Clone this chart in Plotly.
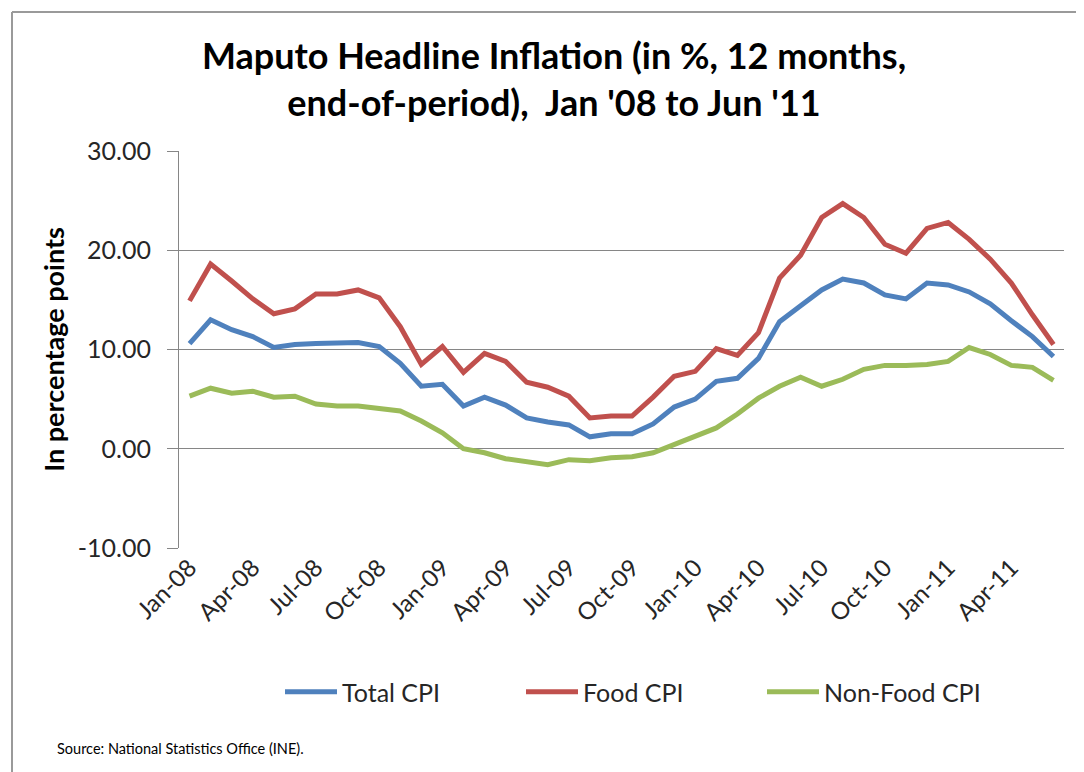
import plotly.graph_objects as go
import pandas as pd

# monthly categories Jan-08 .. Jun-11
months = pd.date_range("2008-01-01", periods=42, freq="MS").strftime("%b-%y").tolist()

total_cpi = [10.6, 13.0, 12.0, 11.3, 10.2, 10.5, 10.6, 10.6, 10.7, 10.3,
             8.6, 6.3, 6.5, 4.3, 5.2, 4.4, 3.1, 2.7, 2.4, 1.2,
             1.5, 1.5, 2.5, 4.2, 5.0, 6.8, 7.1, 9.1, 12.8, 14.4,
             16.0, 17.1, 16.7, 15.5, 15.1, 16.7, 16.5, 15.8, 14.6, 12.9,
             11.3, 9.3]
food_cpi = [14.9, 18.6, 16.9, 15.1, 13.6, 14.1, 15.6, 15.6, 16.0, 15.2,
            12.3, 8.5, 10.3, 7.7, 9.6, 8.8, 6.7, 6.2, 5.3, 3.1,
            3.3, 3.3, 5.2, 7.3, 7.8, 10.1, 9.4, 11.7, 17.2, 19.5,
            23.3, 24.7, 23.3, 20.6, 19.7, 22.2, 22.8, 21.1, 19.1, 16.7,
            13.5, 10.5]
nonfood_cpi = [5.3, 6.1, 5.6, 5.8, 5.2, 5.3, 4.5, 4.3, 4.3, 4.1,
               3.8, 2.8, 1.6, 0.0, -0.4, -1.0, -1.3, -1.6, -1.1, -1.2,
               -0.9, -0.8, -0.4, 0.4, 1.3, 2.1, 3.5, 5.1, 6.3, 7.2,
               6.3, 7.0, 8.0, 8.4, 8.4, 8.5, 8.8, 10.2, 9.5, 8.4,
               8.2, 6.9]

tick_labels = ["Jan-08", "Apr-08", "Jul-08", "Oct-08", "Jan-09", "Apr-09", "Jul-09",
               "Oct-09", "Jan-10", "Apr-10", "Jul-10", "Oct-10", "Jan-11", "Apr-11"]
y_ticks = [-10, 0, 10, 20, 30]
y_tick_text = ["-10.00", "0.00", "10.00", "20.00", "30.00"]

# page has an 8px body margin, so the figure is drawn 8px in from the window corner
OFF = 8
W, H = 1076, 764
ML, MR, MT, MB = 171, 20, 143, 224
PW, PH = W - ML - MR, H - MT - MB


def px_x(p):
    # window pixel -> paper fraction
    return (p - OFF - ML) / PW


def px_y(p):
    return (H - MB - (p - OFF)) / PH


FONT = "Lato, 'Open Sans', sans-serif"
GRID = "#868686"
x = list(range(len(months)))

fig = go.Figure()
series = [
    ("Total CPI", total_cpi, "#4F81BD"),
    ("Food CPI", food_cpi, "#C0504D"),
    ("Non-Food CPI", nonfood_cpi, "#9BBB59"),
]
for name, vals, color in series:
    fig.add_trace(go.Scatter(
        x=x, y=vals, name=name, mode="lines",
        line=dict(color=color, width=5),
        text=months, hovertemplate="%{text}: %{y:.2f}<extra>" + name + "</extra>"
    ))

fig.update_layout(
    width=W, height=H,
    margin=dict(l=ML, r=MR, t=MT, b=MB),
    paper_bgcolor="#ffffff",
    plot_bgcolor="#ffffff",
    font=dict(family=FONT, color="#262626"),
    title=dict(
        text="<b>Maputo Headline Inflation (in %, 12 months,<br>end-of-period),  Jan '08 to Jun '11</b>",
        x=(554 - OFF) / W, xanchor="center", y=1 - 61 / H, yanchor="middle",
        font=dict(size=36, color="#000000", family=FONT)
    ),
    xaxis=dict(
        range=[-0.5, len(months) - 0.5],
        tickmode="array", tickvals=x[::3], ticktext=tick_labels,
        tickangle=-45, ticks="", showline=False, showgrid=False, zeroline=False,
        tickfont=dict(size=24, color="#262626"),
    ),
    xaxis2=dict(
        overlaying="x", anchor="free", position=0.25, side="bottom",
        range=[-0.5, len(months) - 0.5],
        tickmode="array", tickvals=[i - 0.5 for i in x[::3]] + [len(months) - 0.5],
        ticks="outside", ticklen=8, tickcolor=GRID, tickwidth=1,
        showticklabels=False, showline=True, linecolor=GRID, linewidth=1,
        showgrid=False, zeroline=False,
    ),
    yaxis=dict(
        range=[-10, 30],
        tickmode="array", tickvals=y_ticks, ticktext=y_tick_text,
        ticks="outside", ticklen=11, tickcolor=GRID, tickwidth=1,
        ticklabelstandoff=11,
        showline=True, linecolor=GRID, linewidth=1,
        showgrid=True, gridcolor=GRID, gridwidth=1, zeroline=False,
        tickfont=dict(size=25, color="#262626"),
        title=dict(text="<b>In percentage points</b>", standoff=5,
                   font=dict(size=27, color="#000000")),
    ),
    legend=dict(
        orientation="h", x=px_x(280), xanchor="left", y=px_y(692), yanchor="middle",
        entrywidth=174, entrywidthmode="pixels",
        font=dict(size=25, color="#262626"), itemwidth=52,
        bgcolor="rgba(0,0,0,0)",
    ),
    showlegend=True,
)

fig.add_annotation(
    text="Source: National Statistics Office (INE).",
    xref="paper", yref="paper", x=px_x(55), y=px_y(748),
    xanchor="left", yanchor="middle", showarrow=False,
    font=dict(size=14.5, color="#000000"),
)

# chart frame (top and left edges visible in the original)
fig.add_shape(type="line", xref="paper", yref="paper",
              x0=px_x(12), x1=px_x(1100), y0=px_y(12), y1=px_y(12),
              line=dict(color="#9a9a9a", width=2))
fig.add_shape(type="line", xref="paper", yref="paper",
              x0=px_x(12), x1=px_x(12), y0=px_y(12), y1=px_y(790),
              line=dict(color="#9a9a9a", width=2))

fig.write_html("out.html")
